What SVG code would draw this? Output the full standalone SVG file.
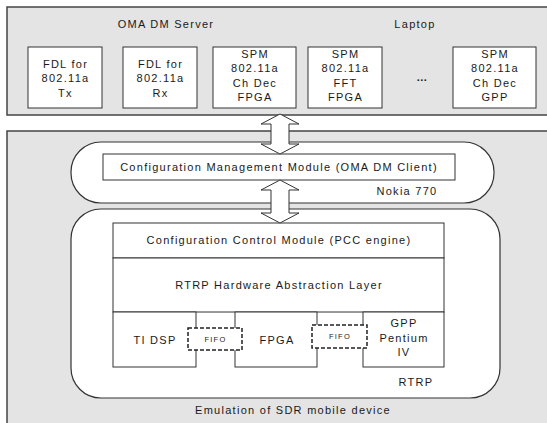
<svg xmlns="http://www.w3.org/2000/svg" width="547" height="423" viewBox="0 0 547 423">
  <style>
    .t { font-family: "Liberation Sans", Arial, sans-serif; font-size: 11px; letter-spacing: 1.27px; fill: #1a1a1a; text-anchor: middle; }
    .small { font-size: 7.5px; letter-spacing: 1.2px; }
    .outer { fill: #e4e4e4; stroke: #444444; stroke-width: 1.5; }
    .box { fill: #ffffff; stroke: #333333; stroke-width: 1; }
    .round { fill: #ffffff; stroke: #333333; stroke-width: 1.2; }
    .fifo { fill: #ffffff; stroke: #222222; stroke-width: 1.5; stroke-dasharray: 4 2; }
    .arrow { fill: #ffffff; stroke: #333333; stroke-width: 1; stroke-linejoin: miter; }
  </style>

  <rect width="547" height="423" fill="#ffffff"/>

  <!-- Laptop hosting the OMA DM server -->
  <g id="laptop">
    <rect class="outer" x="7" y="7" width="550" height="108"/>
    <text class="t" x="166" y="28">OMA DM Server</text>
    <text class="t" x="415" y="28">Laptop</text>
  </g>

  <g id="fdl-tx">
    <rect class="box" x="28" y="47" width="74" height="61"/>
    <text class="t" x="65.5" y="67.5">FDL for</text>
    <text class="t" x="65.5" y="82">802.11a</text>
    <text class="t" x="65.5" y="96.5">Tx</text>
  </g>
  <g id="fdl-rx">
    <rect class="box" x="123" y="47" width="74" height="61"/>
    <text class="t" x="160.5" y="67.5">FDL for</text>
    <text class="t" x="160.5" y="82">802.11a</text>
    <text class="t" x="160.5" y="96.5">Rx</text>
  </g>
  <g id="spm-chdec-fpga">
    <rect class="box" x="213" y="47" width="83" height="61"/>
    <text class="t" x="255" y="57.5">SPM</text>
    <text class="t" x="255" y="72">802.11a</text>
    <text class="t" x="255" y="86.5">Ch Dec</text>
    <text class="t" x="255" y="101">FPGA</text>
  </g>
  <g id="spm-fft-fpga">
    <rect class="box" x="308" y="47" width="74" height="61"/>
    <text class="t" x="345.5" y="57.5">SPM</text>
    <text class="t" x="345.5" y="72">802.11a</text>
    <text class="t" x="345.5" y="86.5">FFT</text>
    <text class="t" x="345.5" y="101">FPGA</text>
  </g>
  <g id="ellipsis">
    <text class="t" x="422" y="81" style="letter-spacing:0.5px;font-weight:bold">...</text>
  </g>
  <g id="spm-chdec-gpp">
    <rect class="box" x="453" y="47" width="83" height="61"/>
    <text class="t" x="495" y="57.5">SPM</text>
    <text class="t" x="495" y="72">802.11a</text>
    <text class="t" x="495" y="86.5">Ch Dec</text>
    <text class="t" x="495" y="101">GPP</text>
  </g>

  <!-- Emulated SDR mobile device -->
  <g id="emulation">
    <rect class="outer" x="7" y="131" width="550" height="300"/>
    <text class="t" x="293" y="414">Emulation of SDR mobile device</text>
  </g>

  <g id="nokia">
    <rect class="round" x="71" y="142" width="423" height="61" rx="30" ry="30"/>
    <text class="t" x="407" y="195">Nokia 770</text>
  </g>
  <g id="config-management">
    <rect class="box" x="103" y="154" width="352" height="26"/>
    <text class="t" x="279" y="171">Configuration Management Module (OMA DM Client)</text>
  </g>

  <g id="rtrp">
    <rect class="round" x="71" y="209" width="429" height="189" rx="30" ry="30"/>
    <text class="t" x="416" y="386">RTRP</text>
  </g>
  <g id="config-control">
    <rect class="box" x="113" y="223" width="331" height="35"/>
    <text class="t" x="279" y="244">Configuration Control Module (PCC engine)</text>
  </g>
  <g id="hal">
    <rect class="box" x="113" y="258" width="331" height="54"/>
    <text class="t" x="279" y="289">RTRP Hardware Abstraction Layer</text>
  </g>
  <g id="ti-dsp">
    <rect class="box" x="113" y="312" width="83" height="55"/>
    <text class="t" x="155" y="344">TI DSP</text>
  </g>
  <g id="fpga">
    <rect class="box" x="235" y="312" width="82" height="55"/>
    <text class="t" x="277" y="344">FPGA</text>
  </g>
  <g id="gpp">
    <rect class="box" x="363" y="312" width="81" height="55"/>
    <text class="t" x="404" y="327">GPP</text>
    <text class="t" x="404" y="341.5">Pentium</text>
    <text class="t" x="404" y="356">IV</text>
  </g>
  <g id="fifo-1">
    <rect class="fifo" x="188" y="328" width="54" height="22"/>
    <text class="t small" x="215.5" y="342">FIFO</text>
  </g>
  <g id="fifo-2">
    <rect class="fifo" x="312" y="325" width="55" height="23"/>
    <text class="t small" x="340" y="339">FIFO</text>
  </g>

  <!-- Two-way links between the tiers -->
  <g id="connectors">
    <polygon class="arrow" points="280,114 299,124 289,124 289,144 299,144 280,154 261,144 271,144 271,124 261,124"/>
    <polygon class="arrow" points="280,180 299,190 289,190 289,213 299,213 280,223 261,213 271,213 271,190 261,190"/>
  </g>
</svg>
